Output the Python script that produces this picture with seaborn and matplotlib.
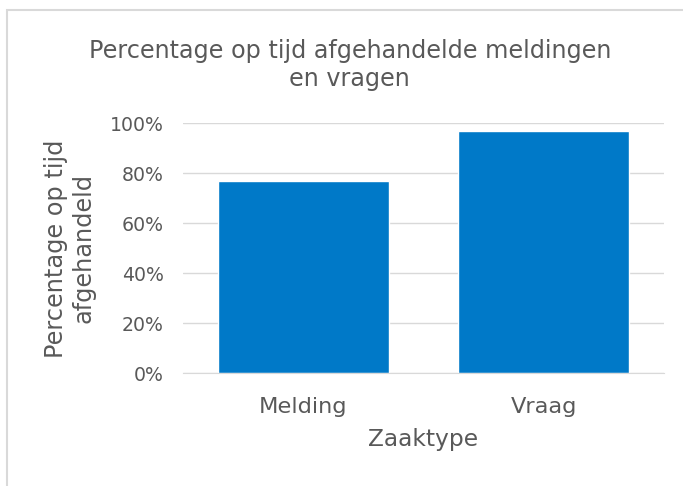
import matplotlib
matplotlib.use("Agg")
import matplotlib.pyplot as plt
import seaborn as sns
import pandas as pd
from matplotlib.patches import Rectangle
from matplotlib.ticker import PercentFormatter

categories = ["Melding", "Vraag"]
values = [77, 97]
yticks = [0, 20, 40, 60, 80, 100]

sns.set_style("white")
plt.rcParams['font.family'] = ['DejaVu Sans']

df = pd.DataFrame({"Zaaktype": categories, "pct": values})

fig = plt.figure(figsize=(6.83, 4.86), dpi=100)
ax = fig.add_axes([0.268, 0.232, 0.704, 0.514])
sns.barplot(data=df, x="Zaaktype", y="pct", color="#0079C8", saturation=1, width=0.71, ax=ax)
ax.set_ylim(0, 100)
ax.set_yticks(yticks)
ax.yaxis.set_major_formatter(PercentFormatter(decimals=0))
ax.grid(axis="y", color="#D9D9D9", linewidth=1)
ax.set_axisbelow(True)
for s in ["top", "right", "left"]:
    ax.spines[s].set_visible(False)
ax.spines["bottom"].set_color("#D9D9D9")
ax.tick_params(axis="both", length=0, colors="#595959")
ax.tick_params(axis="x", labelsize=16.2, pad=17)
ax.tick_params(axis="y", labelsize=13.6, pad=14)
ax.set_xlabel("Zaaktype", fontsize=16.8, color="#595959", labelpad=8)
ax.set_ylabel("Percentage op tijd\nafgehandeld", fontsize=17.3, color="#595959", labelpad=10, linespacing=1.2)
fig.text(0.512, 0.867, "Percentage op tijd afgehandelde meldingen\nen vragen", ha="center", va="center",
         fontsize=17.2, color="#595959", linespacing=1.2)
fig.patches.append(Rectangle((7/683, -0.1), 1.1, 1 - 10/486 + 0.1, transform=fig.transFigure,
                             fill=False, edgecolor="#D9D9D9", linewidth=1.5))
fig.savefig("out.png", dpi=100)
